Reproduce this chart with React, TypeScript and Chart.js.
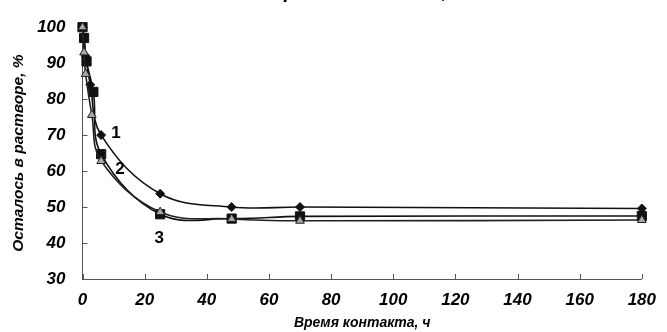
import React, { useEffect, useRef } from 'react';
import { Chart, registerables } from 'chart.js';

Chart.register(...registerables);

// Series 1 (diamonds)
const time1 = [0, 0.5, 1, 2.5, 6, 25, 48, 70, 180];
const rest1 = [100, 97, 92, 84, 70, 53.7, 50, 50, 49.6];
// Series 2 (squares)
const time2 = [0, 0.5, 1.3, 3.5, 6, 25, 48, 70, 180];
const rest2 = [100, 97, 90.5, 82, 64.7, 48, 46.8, 47.4, 47.5];
// Series 3 (triangles)
const time3 = [0, 0.5, 1, 3, 6, 25, 48, 70, 180];
const rest3 = [100, 93, 87, 75.6, 62.8, 48.6, 46.7, 46.2, 46.4];

const curveLabels = ['1', '2', '3'];
const curveLabelX = [10.8, 12.1, 24.7];
const curveLabelY = [70.6, 60.5, 41.2];

const xTitle = 'Время контакта, ч';
const yTitle = 'Осталось в растворе, %';
const topCutText = 'Время контакта, ч';

const FONT = '"Liberation Sans", Arial, sans-serif';

const toPoints = (xs: number[], ys: number[]) => xs.map((x, i) => ({ x, y: ys[i] }));

const overlayPlugin = {
  id: 'overlay',
  beforeDatasetsDraw(chart: any) {
    const { ctx, chartArea } = chart;
    const xs = chart.scales.x;
    const ys = chart.scales.y;
    ctx.save();
    ctx.strokeStyle = '#555';
    ctx.lineWidth = 1;
    ys.ticks.forEach((t: any) => {
      const py = Math.round(ys.getPixelForValue(t.value)) + 0.5;
      ctx.beginPath();
      ctx.moveTo(chartArea.left, py);
      ctx.lineTo(chartArea.left + 5, py);
      ctx.stroke();
    });
    xs.ticks.forEach((t: any) => {
      const px = Math.round(xs.getPixelForValue(t.value)) + 0.5;
      ctx.beginPath();
      ctx.moveTo(px, chartArea.bottom);
      ctx.lineTo(px, chartArea.bottom - 5);
      ctx.stroke();
    });
    ctx.restore();
  },
  afterDraw(chart: any) {
    const { ctx, chartArea } = chart;
    const xs = chart.scales.x;
    const ys = chart.scales.y;
    ctx.save();
    ctx.fillStyle = '#000';
    ctx.font = `bold 17px ${FONT}`;
    ctx.textAlign = 'center';
    ctx.textBaseline = 'middle';
    curveLabels.forEach((t, i) => {
      ctx.fillText(t, xs.getPixelForValue(curveLabelX[i]), ys.getPixelForValue(curveLabelY[i]));
    });
    // partially cut title at the very top
    ctx.font = `italic bold 20px ${FONT}`;
    ctx.textBaseline = 'alphabetic';
    ctx.fillText(topCutText, (chartArea.left + chartArea.right) / 2 + 5, -2);
    ctx.restore();
  },
};

export default function App() {
  const ref = useRef<HTMLCanvasElement | null>(null);
  useEffect(() => {
    if (!ref.current) return;
    const tickFont = { family: FONT, size: 17, style: 'italic' as const, weight: 'bold' as const };
    const xTitleFont = { family: FONT, size: 14, style: 'italic' as const, weight: 'bold' as const };
    const yTitleFont = { family: FONT, size: 15.5, style: 'italic' as const, weight: 'bold' as const };
    const common = {
      showLine: true,
      borderWidth: 1.6,
      tension: 0.38,
      clip: false,
      pointBorderWidth: 1,
    };
    const chart = new Chart(ref.current, {
      type: 'scatter',
      data: {
        datasets: [
          {
            ...common,
            label: '3',
            data: toPoints(time3, rest3),
            borderColor: '#222',
            pointStyle: 'triangle',
            pointRadius: 5,
            pointBackgroundColor: '#a8a8a8',
            pointBorderColor: '#222',
            order: 0,
          },
          {
            ...common,
            label: '2',
            data: toPoints(time2, rest2),
            borderColor: '#111',
            pointStyle: 'rect',
            pointRadius: 6.5,
            pointBackgroundColor: '#111',
            pointBorderColor: '#111',
            order: 1,
          },
          {
            ...common,
            label: '1',
            data: toPoints(time1, rest1),
            borderColor: '#111',
            pointStyle: 'rectRot',
            pointRadius: 4.5,
            pointBackgroundColor: '#111',
            pointBorderColor: '#111',
            order: 2,
          },
        ],
      } as any,
      options: {
        animation: false,
        responsive: false,
        maintainAspectRatio: false,
        layout: { padding: { top: 17, right: 14.5, left: 0, bottom: 0 } },
        plugins: { legend: { display: false }, tooltip: { enabled: false }, title: { display: false } },
        scales: {
          x: {
            type: 'linear',
            min: 0,
            max: 180,
            ticks: { stepSize: 20, color: '#000', font: tickFont, padding: 11, maxRotation: 0 },
            grid: { display: false, drawTicks: false },
            border: { display: true, color: '#555', width: 1 },
            title: { display: true, text: xTitle, color: '#000', font: xTitleFont, padding: { top: 0, bottom: 0 } },
            afterFit: (s: any) => {
              s.height = 53;
            },
          },
          y: {
            type: 'linear',
            min: 30,
            max: 100,
            ticks: { stepSize: 10, color: '#000', font: tickFont, padding: 17 },
            grid: { display: false, drawTicks: false },
            border: { display: true, color: '#555', width: 1 },
            title: { display: true, text: yTitle, color: '#000', font: yTitleFont, padding: { top: 9, bottom: 0 } },
            afterFit: (s: any) => {
              s.width = 82.5;
            },
          },
        },
      } as any,
      plugins: [overlayPlugin],
    });
    return () => chart.destroy();
  }, []);
  return (
    <div style={{ position: 'fixed', left: 0, top: 0, width: 667, height: 332, background: '#fff' }}>
      <canvas ref={ref} width={667} height={332} style={{ width: 667, height: 332, display: 'block' }} />
    </div>
  );
}
